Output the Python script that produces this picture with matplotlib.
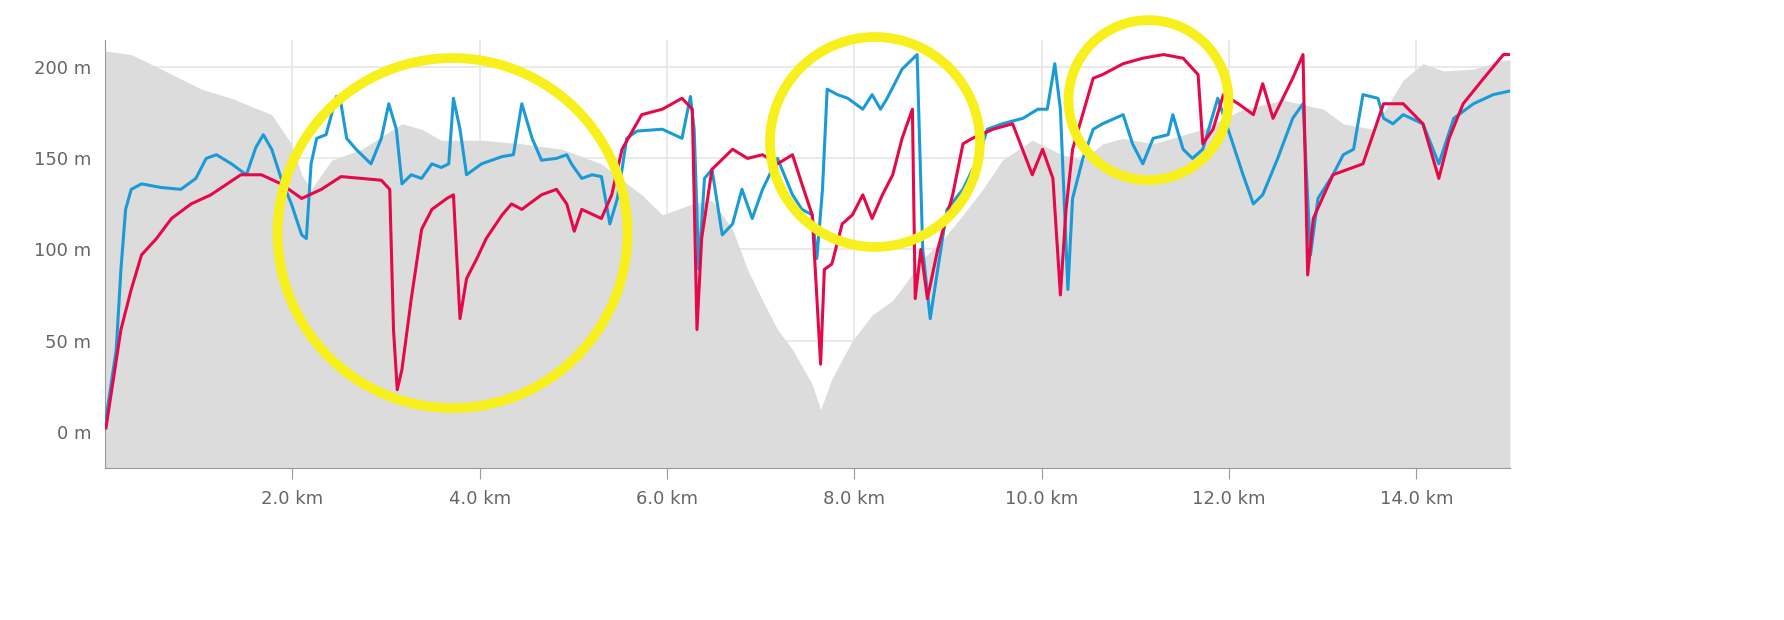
import matplotlib
matplotlib.use('Agg')
import matplotlib.pyplot as plt
from matplotlib.patches import Ellipse

# elevation profile (km, m)
elev_km = [0.0, 0.28, 0.60, 1.03, 1.35, 1.78, 1.99, 2.10, 2.20, 2.42, 2.74, 3.17, 3.38, 3.59, 4.02, 4.45,
           4.88, 5.30, 5.73, 5.95, 6.27, 6.48, 6.70, 6.86, 7.02, 7.18, 7.34, 7.55, 7.64, 7.76, 7.98, 8.19,
           8.41, 8.57, 8.73, 8.94, 9.16, 9.37, 9.58, 9.90, 10.22, 10.44, 10.65, 10.87, 11.19, 11.72, 12.15,
           12.58, 13.01, 13.22, 13.54, 13.86, 14.07, 14.29, 14.61, 14.93, 15.0]
elev_m = [209, 207, 199, 188, 183, 174, 158, 141, 133, 149, 155, 169, 166, 160, 160, 158,
          155, 147, 130, 119, 125, 127, 111, 89, 72, 56, 45, 26, 12, 29, 50, 64,
          72, 83, 95, 105, 119, 133, 149, 160, 152, 149, 158, 161, 158, 166, 177,
          182, 177, 169, 166, 193, 202, 198, 199, 204, 204]

blue_km = [0.01, 0.12, 0.17, 0.22, 0.28, 0.39, 0.60, 0.81, 0.97, 1.08, 1.19, 1.35, 1.51, 1.61, 1.69, 1.78,
           1.88, 1.99, 2.10, 2.15, 2.20, 2.26, 2.36, 2.47, 2.52, 2.58, 2.68, 2.84, 2.95, 3.03, 3.11, 3.17,
           3.27, 3.38, 3.49, 3.59, 3.67, 3.72, 3.79, 3.86, 4.02, 4.24, 4.36, 4.45, 4.56, 4.66, 4.82, 4.93,
           4.98, 5.09, 5.20, 5.30, 5.39, 5.47, 5.52, 5.57, 5.68, 5.95, 6.16, 6.25, 6.29, 6.34, 6.40, 6.48,
           6.59, 6.70, 6.80, 6.91, 7.02, 7.18, 7.34, 7.44, 7.55, 7.60, 7.66, 7.71, 7.82, 7.93, 8.09, 8.19,
           8.28, 8.35, 8.51, 8.67, 8.73, 8.81, 8.89, 8.99, 9.16, 9.32, 9.42, 9.58, 9.80, 9.96, 10.06, 10.14,
           10.20, 10.28, 10.33, 10.44, 10.55, 10.65, 10.87, 10.97, 11.08, 11.19, 11.35, 11.40, 11.51, 11.61,
           11.72, 11.88, 11.99, 12.15, 12.26, 12.36, 12.52, 12.68, 12.79, 12.87, 12.95, 13.11, 13.22, 13.33,
           13.43, 13.59, 13.65, 13.75, 13.86, 14.07, 14.24, 14.40, 14.61, 14.82, 15.0]
blue_m = [7, 45, 89, 122, 133, 136, 134, 133, 139, 150, 152, 147, 141, 156, 163, 155,
          139, 125, 108, 106, 147, 161, 163, 184, 180, 161, 155, 147, 161, 180, 166, 136,
          141, 139, 147, 145, 147, 183, 166, 141, 147, 151, 152, 180, 161, 149, 150, 152,
          147, 139, 141, 140, 114, 128, 144, 161, 165, 166, 161, 184, 166, 89, 139, 144,
          108, 114, 133, 117, 133, 150, 130, 122, 119, 95, 133, 188, 185, 183, 177, 185,
          177, 183, 199, 207, 100, 62, 89, 122, 133, 150, 166, 169, 172, 177, 177, 202,
          177, 78, 128, 150, 166, 169, 174, 158, 147, 161, 163, 174, 155, 150,
          155, 183, 166, 141, 125, 130, 150, 172, 180, 97, 128, 141, 152, 155,
          185, 183, 172, 169, 174, 169, 147, 172, 180, 185, 187]

red_km = [0.01, 0.09, 0.17, 0.28, 0.39, 0.55, 0.71, 0.92, 1.13, 1.45, 1.67, 1.88, 2.10, 2.31, 2.52, 2.74,
          2.95, 3.04, 3.08, 3.12, 3.17, 3.27, 3.38, 3.49, 3.65, 3.72, 3.79, 3.86, 3.97, 4.07, 4.24, 4.34,
          4.45, 4.66, 4.82, 4.93, 5.01, 5.09, 5.30, 5.41, 5.52, 5.73, 5.95, 6.16, 6.27, 6.32, 6.37, 6.48,
          6.70, 6.86, 7.02, 7.18, 7.34, 7.44, 7.55, 7.64, 7.68, 7.76, 7.87, 7.98, 8.09, 8.19, 8.30, 8.41,
          8.51, 8.62, 8.65, 8.71, 8.78, 8.89, 9.05, 9.16, 9.26, 9.48, 9.69, 9.90, 10.01, 10.12, 10.20, 10.26,
          10.33, 10.55, 10.65, 10.87, 11.08, 11.30, 11.51, 11.67, 11.72, 11.83, 11.94, 12.10, 12.26, 12.36,
          12.47, 12.68, 12.79, 12.84, 12.90, 13.11, 13.43, 13.65, 13.86, 14.07, 14.24, 14.35, 14.50, 14.72,
          14.93, 15.0]
red_m = [2, 29, 56, 78, 97, 106, 117, 125, 130, 141, 141, 136, 128, 133, 140, 139,
         138, 133, 56, 23, 34, 73, 111, 122, 128, 130, 62, 84, 95, 106, 119, 125,
         122, 130, 133, 125, 110, 122, 117, 130, 155, 174, 177, 183, 177, 56, 106, 144,
         155, 150, 152, 147, 152, 136, 119, 37, 89, 92, 114, 119, 130, 117, 130, 141,
         161, 177, 73, 100, 73, 100, 130, 158, 161, 166, 169, 141, 155, 139, 75, 122,
         155, 194, 196, 202, 205, 207, 205, 196, 158, 166, 185, 180, 174, 191,
         172, 194, 207, 86, 117, 141, 147, 180, 180, 169, 139, 161, 180, 194,
         207, 207]

# highlight circles: centre (km, m), radius in pixels
circles = [(3.71, 109, 175), (8.22, 159, 105), (11.14, 182, 80)]

x_ticks = [2, 4, 6, 8, 10, 12, 14]
y_ticks = [0, 50, 100, 150, 200]

fig = plt.figure(figsize=(17.84, 6.2), dpi=100)
ax = fig.add_axes([105 / 1784, 152 / 620, 1405 / 1784, 428 / 620])
ax.set_xlim(0, 15)
ax.set_ylim(-20, 215)

ax.fill_between(elev_km, -20, elev_m, color='#dcdcdc', linewidth=0, zorder=1)
ax.plot(blue_km, blue_m, color='#1a9bd7', linewidth=2.2, zorder=3)
ax.plot(red_km, red_m, color='#e5094a', linewidth=2.2, zorder=4)

px_per_km = 1405 / 15
px_per_m = 428 / 235
for cx, cy, r in circles:
    ax.add_patch(Ellipse((cx, cy), 2 * r / px_per_km, 2 * r / px_per_m, fill=False,
                         edgecolor='#f7f01c', linewidth=7, zorder=5, clip_on=False))

ax.set_xticks(x_ticks)
ax.set_xticklabels([f'{v:.1f} km' for v in x_ticks])
ax.set_yticks(y_ticks)
ax.set_yticklabels([f'{v} m' for v in y_ticks])
ax.grid(True, color='#e6e6e6', linewidth=1.2, zorder=0)
ax.set_axisbelow(True)
for s in ['top', 'right']:
    ax.spines[s].set_visible(False)
for s in ['left', 'bottom']:
    ax.spines[s].set_color('#999999')
ax.tick_params(axis='x', colors='#999999', labelcolor='#666666', labelsize=13, length=8, pad=8)
ax.tick_params(axis='y', length=0, labelcolor='#666666', labelsize=13, pad=10)

fig.savefig('out.png', dpi=100)
